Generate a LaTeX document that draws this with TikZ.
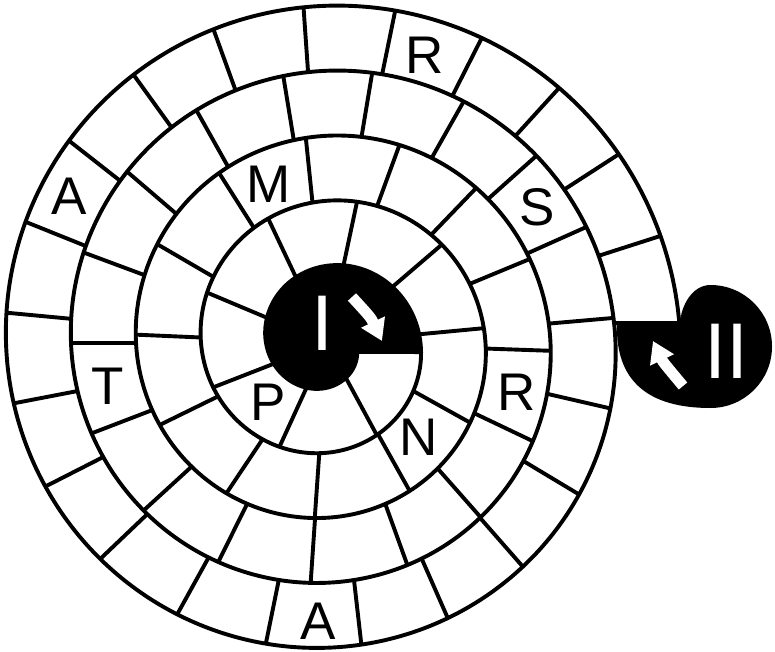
\documentclass[tikz,border=0pt]{standalone}
\usepackage{fontspec}
\setmainfont{Liberation Sans}
\usetikzlibrary{arrows.meta}

\begin{document}
\begin{tikzpicture}[x=1pt, y=1pt,
        track/.style={line width=3.9pt, line join=round},
        letter/.style={inner sep=0pt, font=\fontsize{53}{60}\selectfont},
        numeral/.style={inner sep=0pt, text=white, font=\fontsize{79}{80}\selectfont},
        turn/.style={white, line width=11pt, -{Triangle[length=21pt, width=25pt]}}
    ]
    \useasboundingbox (0,0) rectangle (775,651);
    \coordinate (c) at (327,308);
    % black start and finish fields
    \fill[shift={(c)}] plot[domain=1434.5:1783.4, samples=120, smooth] (\x:{353.5-0.180556*\x}) -- cycle;
    \fill (617,328) -- (680,328) .. controls (681,345) and (692,366) .. (710.5,366)
        arc[start angle=90, end angle=-90, radius=61.5]
        .. controls (648,243) and (615,270) .. (617,328) -- cycle;
    % spiral track and its squares
    \draw[track, shift={(c)}] plot[domain=3.25:1783.4, samples=700, smooth] (\x:{353.5-0.180556*\x});
    \draw[track, shift={(c)}] (3.25:{353.5-0.180556*3.25}) -- (363.98:{353.5-0.180556*363.98});
    \draw[track, shift={(c)}] (1434.5:{353.5-0.180556*1434.5}) -- (1783.4:{353.5-0.180556*1783.4});
    \foreach \t in {17.8, 32.9, 47.7, 63.1, 78.4, 94, 109.9, 125.8, 141.9, 158.1,
                    174.6, 190.9, 207, 223.6, 241.1, 258.5, 276.5, 293.7, 311.2, 329, 347,
                    365, 384.1, 401.8, 420.5, 440.5, 459.3, 479.3, 499.4, 519.6, 540,
                    561, 582.4, 603.6, 626.1, 649.9, 671.4, 694.5, 718,
                    742.5, 766.1, 789.9, 815.9, 842.4, 869.8, 897.5, 926.1, 956.2, 986,
                    1019.2, 1050.9,
                    1085.4, 1120.6, 1158, 1195.3, 1237.2, 1281.3, 1325.4, 1378.4}
        \draw[track, shift={(c)}] (\t:{353.5-0.180556*\t}) -- (\t:{288.5-0.180556*\t});
    % letters
    \node[letter] (r1) at (425,596) {R};
    \node[letter] (s1) at (537,444) {S};
    \node[letter] (a1) at (69,455)  {A};
    \node[letter] (m1) at (269,467) {M};
    \node[letter] (t1) at (108,265) {T};
    \node[letter] (p1) at (268,249) {P};
    \node[letter] (a2) at (318,30)  {A};
    \node[letter] (r2) at (517,259) {R};
    \node[letter] (n1) at (419,214) {N};
    % start and finish
    \node[numeral] (one) at (322.5,327.5) {I};
    \node[numeral] (two) at (726.2,300) {II};
    \coordinate (onea) at (352,354);
    \coordinate (oneb) at (382,310);
    \coordinate (twoa) at (683,265);
    \coordinate (twob) at (653,310);
    \draw[turn] (onea) .. controls (370.8,333.5) .. (oneb);
    \draw[turn] (twoa) .. controls (663,289) .. (twob);
\end{tikzpicture}
\end{document}
